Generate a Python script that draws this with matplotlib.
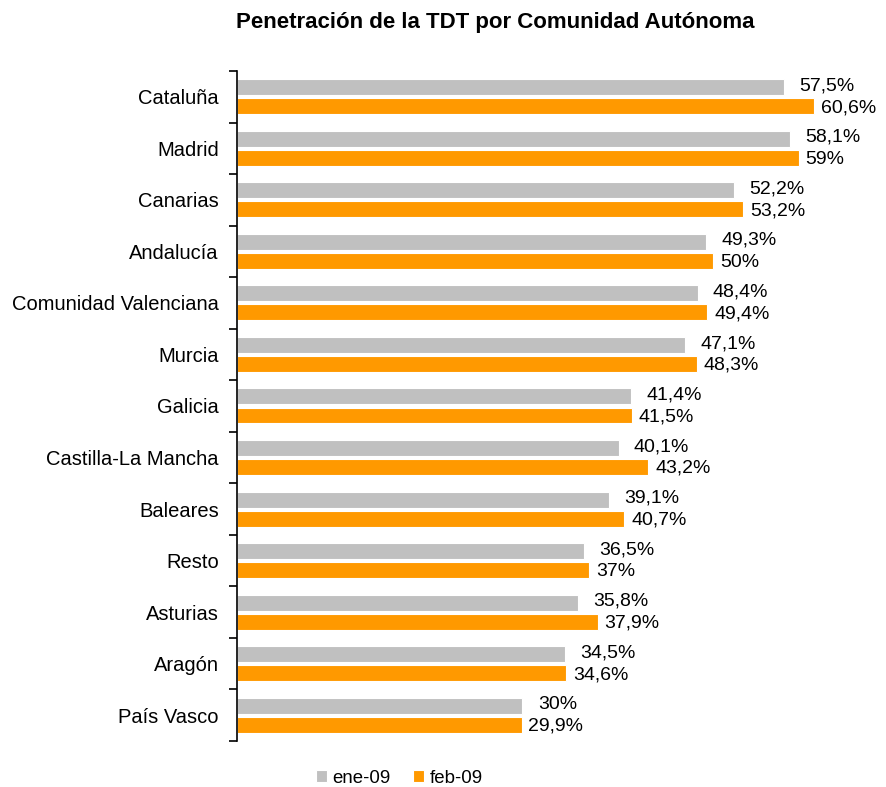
import matplotlib.pyplot as plt
import numpy as np

plt.rcParams['font.family'] = ['Liberation Sans', 'DejaVu Sans']

# datos
regiones = ['Cataluña', 'Madrid', 'Canarias', 'Andalucía', 'Comunidad Valenciana',
            'Murcia', 'Galicia', 'Castilla-La Mancha', 'Baleares', 'Resto',
            'Asturias', 'Aragón', 'País Vasco']
ene09 = [57.5, 58.1, 52.2, 49.3, 48.4, 47.1, 41.4, 40.1, 39.1, 36.5, 35.8, 34.5, 30]
feb09 = [60.6, 59, 53.2, 50, 49.4, 48.3, 41.5, 43.2, 40.7, 37, 37.9, 34.6, 29.9]
series = ['ene-09', 'feb-09']

gris = '#C0C0C0'
naranja = '#FF9900'

def fmt(v):
    if v == int(v):
        return '%d%%' % v
    return ('%.1f%%' % v).replace('.', ',')

fig = plt.figure(figsize=(8.87, 7.87), dpi=100)
ax = fig.add_axes([0.267, 0.0585, 0.73, 0.8513])

y = np.arange(len(regiones))
off = 0.185
h = 0.31
ax.barh(y - off, ene09, height=h, color=gris, edgecolor='white', linewidth=0.8, label=series[0])
ax.barh(y + off, feb09, height=h, color=naranja, edgecolor='white', linewidth=0.8, label=series[1])

for i in range(len(regiones)):
    ax.annotate(fmt(ene09[i]), (ene09[i], y[i] - off), xytext=(11, 1), textcoords='offset points',
                va='center', ha='left', fontsize=14, annotation_clip=False)
    ax.annotate(fmt(feb09[i]), (feb09[i], y[i] + off), xytext=(5, -1), textcoords='offset points',
                va='center', ha='left', fontsize=14, annotation_clip=False)

ax.set_ylim(len(regiones) - 0.5, -0.5)
ax.set_xlim(0, 68)
ax.set_yticks(y)
ax.set_yticklabels(regiones, fontsize=14.5)
ax.tick_params(axis='y', which='major', length=0, pad=13)
ax.set_yticks(np.arange(-0.5, len(regiones), 1), minor=True)
ax.tick_params(axis='y', which='minor', length=6, width=1.2, direction='out')
ax.set_xticks([])
for s in ['top', 'right', 'bottom']:
    ax.spines[s].set_visible(False)
ax.spines['left'].set_linewidth(1.2)

fig.text(0.558, 0.971, 'Penetración de la TDT por Comunidad Autónoma', ha='center', va='center',
         fontsize=16, fontweight='bold')

fig.legend(loc='center', bbox_to_anchor=(0.45, 0.011), ncol=2, frameon=False, fontsize=13.4,
           handlelength=0.6, handleheight=0.6, handletextpad=0.3, columnspacing=1.2)

fig.savefig('out.png', dpi=100)
